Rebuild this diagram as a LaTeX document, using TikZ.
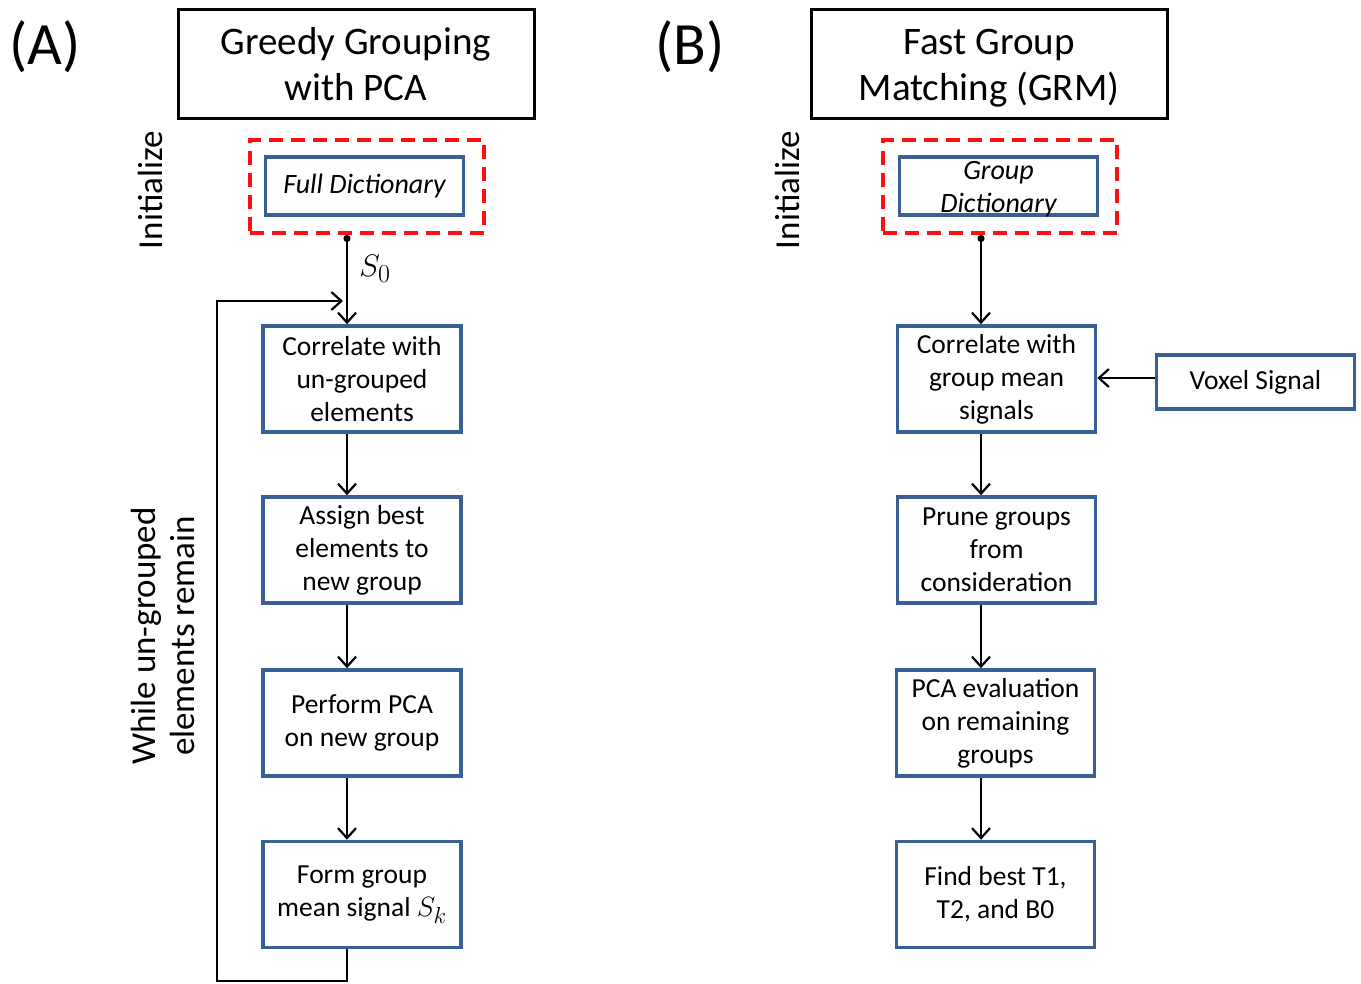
\documentclass[tikz,border=0pt]{standalone}
\usepackage[no-math]{fontspec}
\setmainfont{Carlito}
\usetikzlibrary{arrows.meta}

\definecolor{boxblue}{HTML}{3A5F95}
\definecolor{dashred}{HTML}{FF1010}

\newcommand{\botstrut}{\rule[-6pt]{0pt}{1pt}}

\tikzset{
  procbox/.style={draw=boxblue, line width=3.5pt, fill=white, minimum width=198pt,
    minimum height=106pt, align=center, inner sep=0pt,
    font=\fontsize{27.5}{33}\selectfont},
  dictbox/.style={procbox, minimum height=58pt, font=\fontsize{28}{33}\selectfont\itshape},
  titlebox/.style={draw=black, line width=3pt, minimum width=356pt, minimum height=109pt,
    align=center, inner sep=0pt, font=\fontsize{39}{46}\selectfont},
  redbox/.style={draw=dashred, line width=4pt, dash pattern=on 14pt off 8pt,
    minimum width=234pt, minimum height=93pt},
  sidelabel/.style={rotate=90, align=center, font=\fontsize{35}{39}\selectfont},
  panellabel/.style={font=\fontsize{60}{60}\selectfont},
  flow/.style={draw, line width=2.2pt, -{Straight Barb[length=10pt,width=18pt,line width=2.2pt]}},
  startflow/.style={flow, {Circle[length=7pt]}-{Straight Barb[length=10pt,width=18pt,line width=2.2pt]}}
}

\begin{document}
\begin{tikzpicture}[x=1pt, y=-1pt]
  \useasboundingbox (0,0) rectangle (1361,984);

  % panel A
  \node[panellabel] (labA) at (45,47) {(A)};
  \node[titlebox] (titleA) at (356,64.5) {\strut Greedy Grouping\\with PCA\botstrut};
  \node[redbox] (initA) at (367,186.5) {};
  \node[dictbox] (dictA) at (364.5,186) {Full Dictionary};
  \node[sidelabel] (iniA) at (150,190) {Initialize};
  \node[procbox] (a1) at (362,379) {Correlate with\\un-grouped\\elements};
  \node[procbox] (a2) at (362,550) {Assign best\\elements to\\new group};
  \node[procbox] (a3) at (362,723) {Perform PCA\\on new group};
  \node[procbox] (a4) at (362,894.5) {Form group\\mean signal \scalebox{1.12}{$S_k$}};
  \node[sidelabel] (whileA) at (163,636) {While un-grouped\\elements remain};
  \coordinate (colA) at (347,0);
  \coordinate (loopcorner) at (217,981);
  \coordinate (loopin) at (343,301);

  \draw[startflow] (initA.south -| colA) -- node[right=8pt, pos=0.38, font=\fontsize{24.88}{25}\selectfont] {\scalebox{1.25}{$S_0$}} (a1.north -| colA);
  \draw[flow] (a1.south -| colA) -- (a2.north -| colA);
  \draw[flow] (a2.south -| colA) -- (a3.north -| colA);
  \draw[flow] (a3.south -| colA) -- (a4.north -| colA);
  \draw[flow] (a4.south -| colA) |- (loopcorner) |- (loopin);

  % panel B
  \node[panellabel] (labB) at (690,47) {(B)};
  \node[titlebox] (titleB) at (989,64.5) {\strut Fast Group\\Matching (GRM)\botstrut};
  \node[redbox] (initB) at (999.5,186.5) {};
  \node[dictbox, inner ysep=-3pt] (dictB) at (998.5,186) {\rule{0pt}{24pt}Group\\Dictionary};
  \node[sidelabel] (iniB) at (787,190) {Initialize};
  \node[procbox] (b1) at (996.5,379) {Correlate with\\group mean\\signals};
  \node[procbox] (b2) at (996.5,550) {Prune groups\\from\\consideration};
  \node[procbox] (b3) at (995.5,723) {PCA evaluation\\on remaining\\groups};
  \node[procbox] (b4) at (995.5,894.5) {Find best T1,\\T2, and B0};
  \node[procbox, minimum height=54pt] (voxel) at (1255.5,382) {Voxel Signal};
  \coordinate (colB) at (981,0);

  \draw[startflow] (initB.south -| colB) -- (b1.north -| colB);
  \draw[flow] (b1.south -| colB) -- (b2.north -| colB);
  \draw[flow] (b2.south -| colB) -- (b3.north -| colB);
  \draw[flow] (b3.south -| colB) -- (b4.north -| colB);
  \draw[flow] ([yshift=4pt]voxel.west) -- ([yshift=4pt]voxel.west -| b1.east);
\end{tikzpicture}
\end{document}
